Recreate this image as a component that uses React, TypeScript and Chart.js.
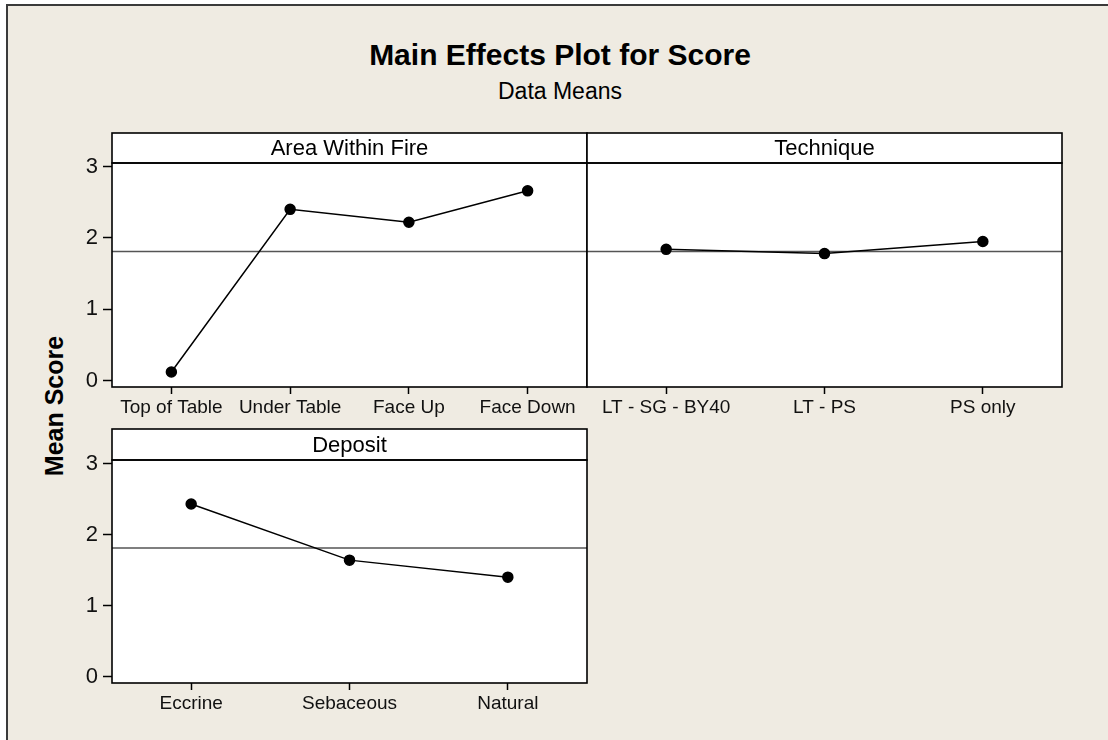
import React, { useEffect, useRef } from "react";
import { Chart, registerables } from "chart.js";

Chart.register(...registerables);

// ---- Data ----
const grandMean = 1.81;
const yTickValues = [0, 1, 2, 3];
const yMin = -0.09;
const yMax = 3.05;

const areaLevels = ["Top of Table", "Under Table", "Face Up", "Face Down"];
const areaMeans = [0.12, 2.4, 2.22, 2.66];

const techniqueLevels = ["LT - SG - BY40", "LT - PS", "PS only"];
const techniqueMeans = [1.84, 1.78, 1.95];

const depositLevels = ["Eccrine", "Sebaceous", "Natural"];
const depositMeans = [2.43, 1.64, 1.4];

const FONT = "'Liberation Sans', Arial, sans-serif";

const panelPlugin = {
  id: "panelDeco",
  beforeDraw(chart: any, _args: any, opts: any) {
    const { ctx, chartArea: a } = chart;
    ctx.save();
    ctx.fillStyle = "#ffffff";
    ctx.fillRect(a.left, a.top, a.right - a.left, a.bottom - a.top);
    ctx.fillRect(a.left, a.top - opts.headerH, a.right - a.left, opts.headerH);
    ctx.restore();
  },
  beforeDatasetsDraw(chart: any, _args: any, opts: any) {
    const { ctx, chartArea: a } = chart;
    const y = chart.scales.y.getPixelForValue(opts.mean);
    ctx.save();
    ctx.strokeStyle = "#555555";
    ctx.lineWidth = 1.5;
    ctx.beginPath();
    ctx.moveTo(a.left, y);
    ctx.lineTo(a.right, y);
    ctx.stroke();
    ctx.restore();
  },
  afterDraw(chart: any, _args: any, opts: any) {
    const { ctx, chartArea: a } = chart;
    ctx.save();
    ctx.strokeStyle = "#000000";
    ctx.lineWidth = 1.6;
    ctx.strokeRect(a.left, a.top, a.right - a.left, a.bottom - a.top);
    ctx.strokeRect(a.left, a.top - opts.headerH, a.right - a.left, opts.headerH);
    ctx.fillStyle = "#000000";
    ctx.font = `22px ${FONT}`;
    ctx.textAlign = "center";
    ctx.textBaseline = "middle";
    ctx.fillText(opts.title, (a.left + a.right) / 2, a.top - opts.headerH / 2 + 1);
    ctx.restore();
  },
};

type PanelProps = {
  title: string;
  labels: string[];
  values: number[];
  canvas: { x: number; y: number; w: number; h: number };
  area: { l: number; t: number; r: number; b: number };
  showY: boolean;
  headerH: number;
};

function Panel({ title, labels, values, canvas, area, showY, headerH }: PanelProps) {
  const ref = useRef<HTMLCanvasElement | null>(null);
  useEffect(() => {
    if (!ref.current) return;
    const yWidth = area.l - canvas.x;
    const xHeight = canvas.y + canvas.h - area.b;
    const chart = new Chart(ref.current, {
      type: "line",
      data: {
        labels,
        datasets: [
          {
            data: values,
            borderColor: "#000000",
            backgroundColor: "#000000",
            borderWidth: 1.5,
            pointRadius: 5,
            pointHoverRadius: 5,
            pointBackgroundColor: "#000000",
            pointBorderColor: "#000000",
            tension: 0,
            fill: false,
          },
        ],
      },
      options: {
        responsive: false,
        animation: false,
        devicePixelRatio: 1,
        events: [],
        layout: {
          padding: {
            top: area.t - canvas.y,
            right: canvas.x + canvas.w - area.r,
            bottom: 0,
            left: showY ? 0 : area.l - canvas.x,
          },
        },
        plugins: {
          legend: { display: false },
          tooltip: { enabled: false },
          title: { display: false },
          panelDeco: { title, headerH, mean: grandMean },
        } as any,
        scales: {
          x: {
            type: "category",
            offset: true,
            grid: {
              display: true,
              drawOnChartArea: false,
              drawTicks: true,
              tickLength: 7,
              tickColor: "#000000",
              tickWidth: 1.5,
            },
            border: { display: false },
            ticks: {
              color: "#111111",
              font: { family: FONT, size: 19 },
              padding: 2,
              maxRotation: 0,
              autoSkip: false,
            },
            afterFit: (s: any) => {
              s.height = xHeight;
            },
          },
          y: {
            type: "linear",
            display: showY,
            min: yMin,
            max: yMax,
            grid: {
              display: true,
              drawOnChartArea: false,
              drawTicks: true,
              tickLength: 9,
              tickColor: "#000000",
              tickWidth: 1.5,
            },
            border: { display: false },
            ticks: {
              includeBounds: false,
              color: "#111111",
              font: { family: FONT, size: 22 },
              padding: 5,
              stepSize: 1,
            },
            afterBuildTicks: (s: any) => {
              s.ticks = yTickValues.map((v) => ({ value: v }));
            },
            afterFit: (s: any) => {
              if (showY) s.width = yWidth;
            },
          },
        },
      },
      plugins: [panelPlugin as any],
    });
    return () => chart.destroy();
  }, []);
  return (
    <canvas
      ref={ref}
      width={canvas.w}
      height={canvas.h}
      style={{ position: "absolute", left: canvas.x, top: canvas.y, width: canvas.w, height: canvas.h }}
    />
  );
}

export default function App() {
  return (
    <div
      style={{
        position: "absolute",
        left: 0,
        top: 0,
        width: 1108,
        height: 740,
        background: "#ffffff",
        overflow: "hidden",
        fontFamily: FONT,
      }}
    >
      <div
        style={{
          position: "absolute",
          left: 6,
          top: 4,
          width: 1200,
          height: 900,
          background: "#EFEBE2",
          borderLeft: "2px solid #3a3a3a",
          borderTop: "2px solid #3a3a3a",
        }}
      />
      <div
        style={{
          position: "absolute",
          left: 260,
          width: 600,
          top: 40,
          textAlign: "center",
          fontWeight: "bold",
          fontSize: 30,
          lineHeight: "30px",
          color: "#000",
        }}
      >
        Main Effects Plot for Score
      </div>
      <div
        style={{
          position: "absolute",
          left: 260,
          width: 600,
          top: 80,
          textAlign: "center",
          fontSize: 23,
          lineHeight: "23px",
          color: "#000",
        }}
      >
        Data Means
      </div>
      <div
        style={{
          position: "absolute",
          left: 54 - 100,
          top: 406 - 15,
          width: 200,
          height: 30,
          lineHeight: "30px",
          textAlign: "center",
          fontWeight: "bold",
          fontSize: 25,
          color: "#000",
          transform: "rotate(-90deg)",
          transformOrigin: "100px 15px",
        }}
      >
        Mean Score
      </div>
      <Panel
        title="Area Within Fire"
        labels={areaLevels}
        values={areaMeans}
        canvas={{ x: 0, y: 120, w: 600, h: 320 }}
        area={{ l: 112, t: 163, r: 587, b: 387 }}
        showY={true}
        headerH={30}
      />
      <Panel
        title="Technique"
        labels={techniqueLevels}
        values={techniqueMeans}
        canvas={{ x: 580, y: 120, w: 528, h: 320 }}
        area={{ l: 587, t: 163, r: 1062, b: 387 }}
        showY={false}
        headerH={30}
      />
      <Panel
        title="Deposit"
        labels={depositLevels}
        values={depositMeans}
        canvas={{ x: 0, y: 415, w: 600, h: 320 }}
        area={{ l: 112, t: 460, r: 587, b: 683 }}
        showY={true}
        headerH={31}
      />
    </div>
  );
}
